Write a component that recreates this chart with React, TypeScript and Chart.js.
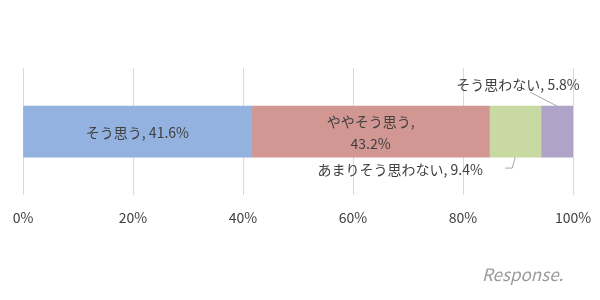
import React, { useEffect, useRef } from "react";
import { Chart, registerables } from "chart.js";

Chart.register(...registerables);

const categories = [""];
const seriesNames = ["そう思う", "ややそう思う", "あまりそう思わない", "そう思わない"];
const seriesValues = [41.6, 43.2, 9.4, 5.8];
const seriesColors = ["#93B2DF", "#D39793", "#C8D9A2", "#B0A3C9"];
const tickValues = [0, 20, 40, 60, 80, 100];

const FONT = '"Noto Sans CJK JP", "Noto Sans", sans-serif';

const labelPlugin = {
  id: "segLabels",
  afterDatasetsDraw(chart: any) {
    const ctx = chart.ctx;
    const x = chart.scales.x;
    const y = chart.scales.y;
    const meta0 = chart.getDatasetMeta(0).data[0];
    const top = meta0.y - meta0.height / 2;
    const bottom = meta0.y + meta0.height / 2;
    const cy = y.getPixelForValue(0);
    const cum: number[] = [];
    let s = 0;
    seriesValues.forEach((v) => {
      cum.push(s);
      s += v;
    });
    const center = (i: number) => x.getPixelForValue(cum[i] + seriesValues[i] / 2);
    ctx.save();
    ctx.fillStyle = "#404040";
    ctx.font = `14px ${FONT}`;
    ctx.textAlign = "center";
    ctx.textBaseline = "middle";
    ctx.fillText(`${seriesNames[0]}, ${seriesValues[0]}%`, center(0), cy + 1);
    ctx.fillText(`${seriesNames[1]},`, center(1), cy - 10);
    ctx.fillText(`${seriesValues[1]}%`, center(1), cy + 12);
    ctx.strokeStyle = "#A6A6A6";
    ctx.lineWidth = 1;
    const c2 = center(2);
    ctx.beginPath();
    ctx.moveTo(c2, bottom);
    ctx.lineTo(c2 - 3, bottom + 11);
    ctx.lineTo(c2 - 10, bottom + 11);
    ctx.stroke();
    ctx.fillText(`${seriesNames[2]}, ${seriesValues[2]}%`, c2 - 115, bottom + 13);
    const c3 = center(3);
    ctx.beginPath();
    ctx.moveTo(c3, top);
    ctx.lineTo(c3 - 27, top - 14);
    ctx.stroke();
    ctx.fillText(`${seriesNames[3]}, ${seriesValues[3]}%`, c3 - 39, top - 21);
    ctx.fillStyle = "#9A9A9A";
    ctx.font = `italic 17px ${FONT}`;
    ctx.textAlign = "left";
    ctx.fillText("Response.", 482, 275);
    ctx.restore();
  },
};

export default function App() {
  const ref = useRef<HTMLCanvasElement>(null);
  useEffect(() => {
    if (!ref.current) return;
    const chart = new Chart(ref.current, {
      type: "bar",
      data: {
        labels: categories,
        datasets: seriesNames.map((name, i) => ({
          label: name,
          data: [seriesValues[i]],
          backgroundColor: seriesColors[i],
          borderWidth: 0,
          barThickness: 51,
        })),
      },
      options: {
        indexAxis: "y",
        animation: false,
        responsive: false,
        layout: { padding: { left: 23, right: 27, top: 68, bottom: 74 } },
        plugins: { legend: { display: false }, tooltip: { enabled: false } },
        scales: {
          x: {
            stacked: true,
            min: 0,
            max: 100,
            afterBuildTicks: (axis: any) => {
              axis.ticks = tickValues.map((v) => ({ value: v }));
            },
            ticks: {
              callback: (v: any) => `${v}%`,
              color: "#404040",
              font: { family: FONT, size: 14 },
              padding: 0,
              maxRotation: 0,
            },
            grid: { color: "#D9D9D9", drawTicks: true, tickLength: 14, tickColor: "rgba(0,0,0,0)" },
            border: { display: false },
          },
          y: {
            stacked: true,
            display: false,
          },
        },
      },
      plugins: [labelPlugin],
    });
    return () => chart.destroy();
  }, []);
  return (
    <div style={{ position: "fixed", left: 0, top: 0, width: 600, height: 300, background: "#fff" }}>
      <canvas ref={ref} width={600} height={300} />
    </div>
  );
}
